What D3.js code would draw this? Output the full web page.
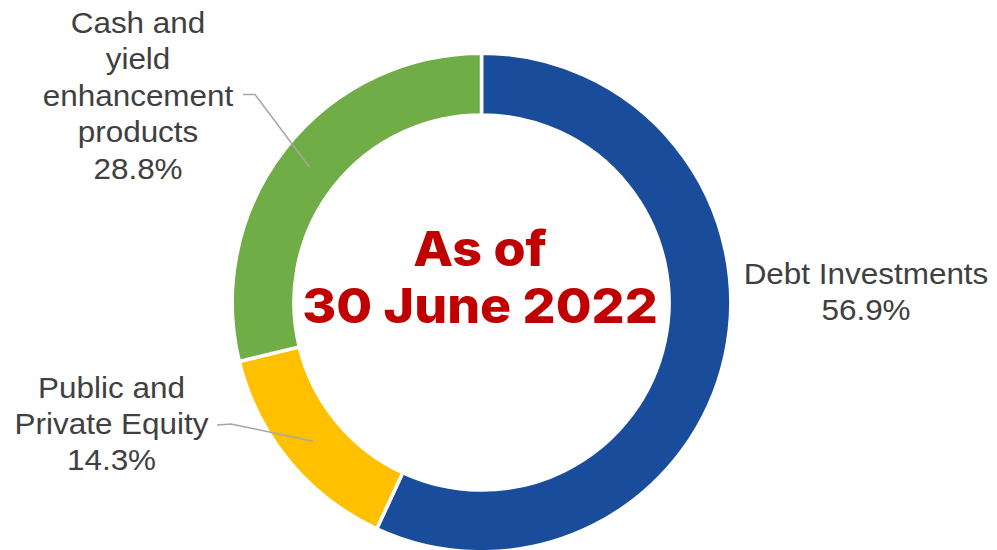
<!DOCTYPE html>
<html>
<head>
<meta charset="utf-8">
<script src="https://cdn.jsdelivr.net/npm/d3@7"></script>
<style>
  html, body { margin: 0; padding: 0; background: #ffffff; }
  svg { display: block; }
</style>
</head>
<body>
<svg id="chart" width="997" height="550"></svg>
<script>
// Portfolio allocation, clockwise from 12 o'clock
const categories = ["Debt Investments", "Public and Private Equity", "Cash and yield enhancement products"];
const values = [56.9, 14.3, 28.8];
const colors = ["#1A4C9C", "#FFC000", "#70AD47"];
// Label text, broken into lines as printed
const labelLines = [
  ["Debt Investments"],
  ["Public and", "Private Equity"],
  ["Cash and", "yield", "enhancement", "products"]
];
const centerLines = ["As of", "30 June 2022"];

const W = 997, H = 550;
const cx = 481.5, cy = 302.5;
const outerR = 249.3, innerR = 187.6;

const svg = d3.select("#chart");
const g = svg.append("g").attr("transform", `translate(${cx},${cy})`);

const pie = d3.pie().sort(null).value(d => d)(values);
const arc = d3.arc().innerRadius(innerR).outerRadius(outerR);
const mid = d3.arc().innerRadius((innerR + outerR) / 2).outerRadius((innerR + outerR) / 2);

g.selectAll("path.slice")
  .data(pie)
  .join("path")
  .attr("class", "slice")
  .attr("d", arc)
  .attr("fill", (d, i) => colors[i])
  .attr("stroke", "#ffffff")
  .attr("stroke-width", 3.5)
  .attr("stroke-linejoin", "miter");

// Label placement: text block centre x, first baseline, and optional leader elbow
const labelLayout = [
  { x: 866, y: 283.5, leader: null },
  { x: 111.5, y: 397.5, leader: { start: [217, 425], elbow: [231, 424] } },
  { x: 138, y: 33, leader: { start: [243, 94.5], elbow: [255, 94.5] } }
];
const lineGap = 36.4;
const stretch = 1.1;

const fmt = v => v.toFixed(1) + "%";

labelLayout.forEach((L, i) => {
  if (L.leader) {
    const c = mid.centroid(pie[i]);
    svg.append("polyline")
      .attr("points", [L.leader.start, L.leader.elbow, [cx + c[0], cy + c[1]]].map(p => p.join(",")).join(" "))
      .attr("fill", "none")
      .attr("stroke", "#A6A6A6")
      .attr("stroke-width", 1.5);
  }
  const lines = labelLines[i].concat([fmt(values[i])]);
  const t = svg.append("g")
    .attr("transform", `translate(${L.x},${L.y}) scale(${stretch},1)`)
    .append("text")
    .attr("text-anchor", "middle")
    .attr("font-family", "'Liberation Sans', Arial, sans-serif")
    .attr("font-size", 28.6)
    .attr("fill", "#404040");
  lines.forEach((s, k) => {
    t.append("tspan").attr("x", 0).attr("y", k * lineGap).text(s);
  });
});

// Centre caption
const ct = svg.append("g")
  .attr("transform", `translate(${cx - 1.5},${cy}) scale(1.07,1)`)
  .append("text")
  .attr("text-anchor", "middle")
  .attr("font-family", "Inter, 'Noto Sans', sans-serif")
  .attr("font-weight", 800)
  .attr("font-size", 48.5)
  .attr("fill", "#C00000");
centerLines.forEach((s, k) => {
  ct.append("tspan").attr("x", 0).attr("y", k === 0 ? -36.5 : 20.2).text(s);
});
</script>
</body>
</html>
